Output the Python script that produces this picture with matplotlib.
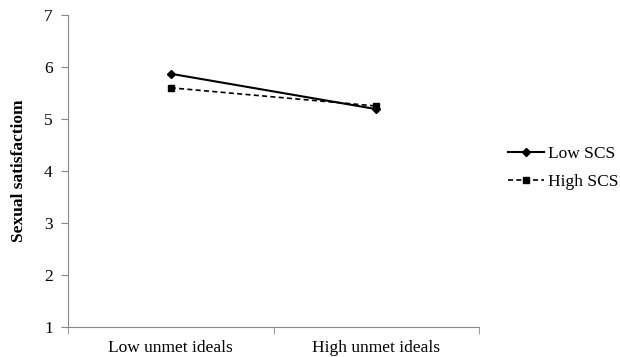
import numpy as np
import matplotlib
matplotlib.use("Agg")
import matplotlib.pyplot as plt

plt.rcParams['font.family'] = ['Liberation Serif', 'DejaVu Serif']

categories = ["Low unmet ideals", "High unmet ideals"]
low_scs = [5.87, 5.19]
high_scs = [5.60, 5.25]

fig = plt.figure(figsize=(6.2, 3.57), dpi=100)
ax = fig.add_axes([0.1097, 0.084, 0.663, 0.874])

x = np.arange(len(categories)) + 0.5
ax.plot(x, low_scs, color="black", lw=1.5, marker="D", ms=4, label="Low SCS")
ax.plot(x, high_scs, color="black", lw=1.2, ls=(0, (3, 2)), marker="s", ms=5, label="High SCS")

ax.set_xlim(0, 2)
ax.set_ylim(1, 7)
ax.set_yticks(range(1, 8))
ax.set_xticks(x)
ax.set_xticklabels(categories, fontsize=12.5)
ax.set_xticks([0, 1, 2], minor=True)
ax.tick_params(axis="x", which="major", length=0, pad=9)
ax.tick_params(axis="x", which="minor", length=5, color="#888888")
ax.tick_params(axis="y", length=5, color="#888888", labelsize=12.5, pad=6)
ax.set_ylabel("Sexual satisfactiom", fontsize=12.5, fontweight="bold", labelpad=12)

for s in ["top", "right"]:
    ax.spines[s].set_visible(False)
for s in ["left", "bottom"]:
    ax.spines[s].set_color("#888888")

fig.legend(*ax.get_legend_handles_labels(), loc="center left",
           bbox_to_anchor=(508 / 620, 0.53), frameon=False, fontsize=12.5,
           borderpad=0, borderaxespad=0, handlelength=2.1, handletextpad=0.2,
           labelspacing=0.7)

fig.savefig("out.png", dpi=100)
